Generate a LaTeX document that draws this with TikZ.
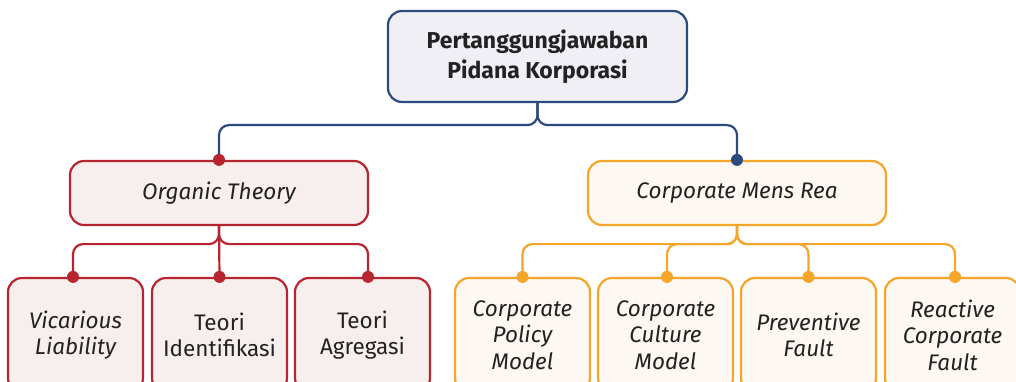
\documentclass[tikz,border=0pt]{standalone}
\usepackage{fontspec}
\setmainfont{Fira Sans}
\definecolor{navy}{HTML}{2C4A7E}
\definecolor{navyfill}{HTML}{EFEFF5}
\definecolor{crimson}{HTML}{B72630}
\definecolor{crimsonfill}{HTML}{F7EFED}
\definecolor{amber}{HTML}{F5A52A}
\definecolor{amberfill}{HTML}{FDF8F1}
\definecolor{ink}{HTML}{222222}

\begin{document}
\begin{tikzpicture}[x=1pt,y=-1pt,
  box/.style={rounded corners=14pt, line width=2.2pt, align=center, text=ink, inner sep=0pt},
  rootbox/.style={box, draw=navy, fill=navyfill, minimum width=299pt, minimum height=91pt,
    font=\bfseries\fontsize{23}{30}\selectfont},
  redmid/.style={box, draw=crimson, fill=crimsonfill, minimum width=298pt, minimum height=64pt,
    font=\itshape\fontsize{22.5}{26}\selectfont},
  ambermid/.style={box, draw=amber, fill=amberfill, minimum width=298pt, minimum height=64pt,
    font=\itshape\fontsize{22.5}{26}\selectfont},
  redleaf/.style={box, draw=crimson, fill=crimsonfill, minimum width=135pt, minimum height=114pt,
    font=\fontsize{22.5}{26.5}\selectfont},
  amberleaf/.style={box, draw=amber, fill=amberfill, minimum width=135pt, minimum height=114pt,
    font=\itshape\fontsize{22.5}{26.5}\selectfont},
  link/.style={draw=#1, line width=2.2pt, rounded corners=10pt},
  knot/.style={fill=#1}
]
\useasboundingbox (0,0) rectangle (1016,382);
\clip (0,0) rectangle (1016,382);

% root
\node[rootbox] (root) at (537.5,56.5) {Pertanggungjawaban\\Pidana Korporasi};

% second level
\node[redmid]   (org)  at (219,193) {Organic Theory};
\node[ambermid] (cmr)  at (737,193) {Corporate Mens Rea};

% leaves under Organic Theory
\node[redleaf] (vic) at (75.5,335)  {\itshape Vicarious\\\itshape Liability};
\node[redleaf] (tid) at (219.5,335) {Teori\\Identifikasi};
\node[redleaf] (tag) at (362.5,335) {Teori\\Agregasi};

% leaves under Corporate Mens Rea
\node[amberleaf] (cpm) at (522.5,335) {Corporate\\Policy\\Model};
\node[amberleaf] (ccm) at (665.5,335) {Corporate\\Culture\\Model};
\node[amberleaf] (pf)  at (808.5,335) {Preventive\\Fault};
\node[amberleaf] (rcf) at (952.5,335) {Reactive\\Corporate\\Fault};

% root to second level
\draw[link=navy] (root.south) -- ++(0,22) -| (org.north);
\draw[link=navy] (root.south) -- ++(0,22) -| (cmr.north);

% Organic Theory to its leaves
\draw[link=crimson] (org.south) -- ++(0,18) -| ([xshift=-2.5pt]vic.north);
\draw[link=crimson] (org.south) -- (tid.north);
\draw[link=crimson] (org.south) -- ++(0,18) -| ([xshift=5.5pt]tag.north);

% Corporate Mens Rea to its leaves
\draw[link=amber] (cmr.south) -- ++(0,18) -| (cpm.north);
\draw[link=amber] (cmr.south) -- ++(0,18) -| ([xshift=1.5pt]ccm.north);
\draw[link=amber] (cmr.south) -- ++(0,18) -| (pf.north);
\draw[link=amber] (cmr.south) -- ++(0,18) -| ([xshift=2.5pt]rcf.north);

% junction dots
\fill[knot=crimson] (org.north) circle (6pt);
\fill[knot=navy]    (cmr.north) circle (6pt);
\fill[knot=crimson] ([xshift=-2.5pt]vic.north) circle (6pt);
\fill[knot=crimson] (tid.north) circle (6pt);
\fill[knot=crimson] ([xshift=5.5pt]tag.north) circle (6pt);
\fill[knot=amber] (cpm.north) circle (6pt);
\fill[knot=amber] ([xshift=1.5pt]ccm.north) circle (6pt);
\fill[knot=amber] (pf.north) circle (6pt);
\fill[knot=amber] ([xshift=2.5pt]rcf.north) circle (6pt);
\end{tikzpicture}
\end{document}
